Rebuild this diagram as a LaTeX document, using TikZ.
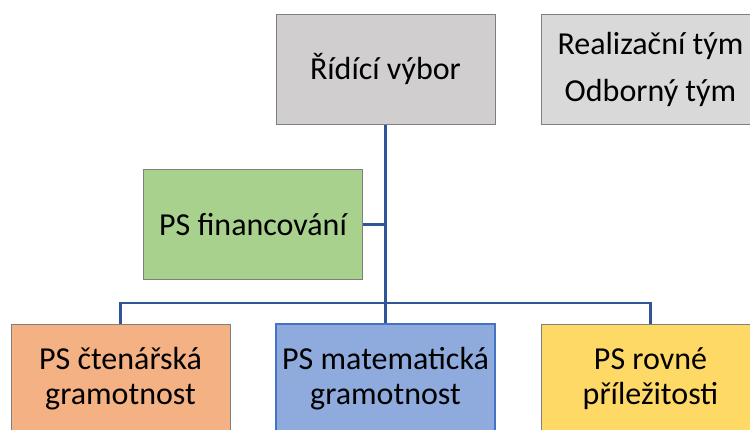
\documentclass[tikz,border=0pt]{standalone}
\usepackage{fontspec}
\setmainfont{Carlito}
\definecolor{grayA}{HTML}{D0CECE}
\definecolor{grayB}{HTML}{D9D9D9}
\definecolor{greenF}{HTML}{A9D18E}
\definecolor{orangeF}{HTML}{F4B183}
\definecolor{blueF}{HTML}{8FAADC}
\definecolor{yellowF}{HTML}{FFD966}
\definecolor{boxline}{HTML}{7F7F7F}
\definecolor{blueline}{HTML}{4472C4}
\definecolor{conn}{HTML}{2F5597}
\tikzset{
  orgbox/.style={draw=boxline, line width=1pt, minimum width=219pt, minimum height=110pt,
    inner sep=0pt, align=center, font=\fontsize{32}{35}\selectfont, text=black},
  link/.style={draw=conn, line width=2.5pt}
}
\begin{document}
\begin{tikzpicture}[x=1pt,y=-1pt]
\useasboundingbox (0,0) rectangle (750,429);
\clip (0,0) rectangle (750,429);
\fill[white] (0,0) rectangle (750,429);
\node[orgbox, fill=grayA] (ridici) at (385.5,69) {Řídící výbor};
\node[orgbox, fill=grayB, font=\fontsize{32}{47}\selectfont] (real) at (650.5,69) {Realizační tým\\Odborný tým};
\node[orgbox, fill=greenF] (fin) at (253,224.5) {PS financování};
\node[orgbox, fill=orangeF] (cten) at (120.5,379) {PS čtenářská\\gramotnost};
\node[orgbox, fill=blueF, draw=blueline, line width=2pt] (mat) at (385.5,379) {PS matematická\\gramotnost};
\node[orgbox, fill=yellowF] (rov) at (650.5,379) {PS rovné\\příležitosti};
\coordinate (bar) at (385.5,303);
\draw[link] (ridici.south) -- (bar);
\draw[link] (fin.east) -- (fin.east -| bar);
\draw[link] (cten.north) |- (bar) -| (rov.north);
\draw[link] (bar) -- (mat.north);
\end{tikzpicture}
\end{document}
